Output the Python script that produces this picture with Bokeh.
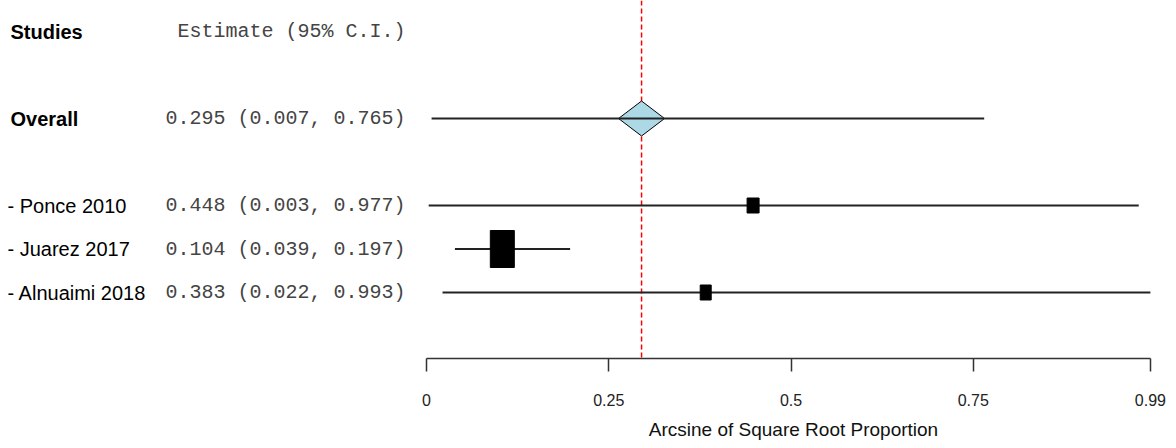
from bokeh.plotting import figure
from bokeh.models import Range1d, FixedTicker, ColumnDataSource
from bokeh.layouts import row
from bokeh.embed import file_html
from bokeh.resources import INLINE
from bokeh.core.properties import value

# ---------------- data ----------------
studies = ["Ponce 2010", "Juarez 2017", "Alnuaimi 2018"]
estimates = [0.448, 0.104, 0.383]
lower = [0.003, 0.039, 0.022]
upper = [0.977, 0.197, 0.993]

overall_label = "Overall"
overall_est = 0.295
overall_lower = 0.007
overall_upper = 0.765

col_headers = ["Studies", "Estimate (95% C.I.)"]
tick_values = [0, 0.25, 0.5, 0.75, 0.993]
tick_labels = ["0", "0.25", "0.5", "0.75", "0.99"]
x_title = "Arcsine of Square Root Proportion"

# ---------------- style / layout ----------------
box_w_px = [12, 24, 11]
box_h_px = [15, 37, 15]
W_LEFT, W_RIGHT, H = 416, 754, 446
BOTTOM = 88
FRAME_H = H - BOTTOM
ROW_PX, ROW0_PX = 43.5, 31.0
PX_PER_UNIT = 729.0
RIGHT_OFFSET_PX = 10
SANS = "Liberation Sans"
MONO = "Liberation Mono"
EST_X = 405
NAME_X = 7
HEAD_X = 10

header_row = 0
overall_row = 2
study_rows = [4 + i for i in range(len(studies))]

def fmt(e, l, u):
    return f"{e:.3f} ({l:.3f}, {u:.3f})"

y_bottom = (FRAME_H - ROW0_PX) / ROW_PX
y_top = -ROW0_PX / ROW_PX
y_range = Range1d(start=y_bottom, end=y_top)

# ---------------- left (text) panel ----------------
left = figure(width=W_LEFT, height=H, x_range=Range1d(0, W_LEFT), y_range=y_range,
              x_axis_location=None, y_axis_location=None, toolbar_location=None,
              output_backend="svg", min_border_left=0, min_border_right=0,
              min_border_top=0, min_border_bottom=BOTTOM)
left.outline_line_color = None
left.grid.visible = False

left.text(x=[HEAD_X, HEAD_X], y=[header_row, overall_row], text=[col_headers[0], overall_label],
          text_font=value(SANS), text_font_size="20px", text_font_style="bold",
          text_baseline="middle", text_align="left", text_color="black")
left.text(x=[EST_X, EST_X], y=[header_row, overall_row],
          text=[col_headers[1], fmt(overall_est, overall_lower, overall_upper)],
          text_font=value(MONO), text_font_size="20px", text_baseline="middle",
          text_align="right", text_color="#444444")

src_txt = ColumnDataSource(dict(
    y=study_rows,
    name=["- " + s for s in studies],
    est=[fmt(e, l, u) for e, l, u in zip(estimates, lower, upper)],
))
left.text(x=NAME_X, y="y", text="name", source=src_txt, text_font=value(SANS),
          text_font_size="20px", text_baseline="middle", text_align="left",
          text_color="black")
left.text(x=EST_X, y="y", text="est", source=src_txt, text_font=value(MONO),
          text_font_size="20px", text_baseline="middle", text_align="right",
          text_color="#444444")

# ---------------- right (forest) panel ----------------
x0 = -RIGHT_OFFSET_PX / PX_PER_UNIT
x1 = (W_RIGHT - RIGHT_OFFSET_PX) / PX_PER_UNIT
right = figure(width=W_RIGHT, height=H, x_range=Range1d(x0, x1), y_range=y_range,
               x_axis_location="below", y_axis_location=None, toolbar_location=None,
               output_backend="svg", min_border_left=0, min_border_right=0,
               min_border_top=0, min_border_bottom=BOTTOM)
right.outline_line_color = None
right.grid.visible = False

# reference (summary) line
right.segment(x0=[overall_est], y0=[y_top], x1=[overall_est], y1=[y_bottom],
              line_color="#FF0000", line_alpha=1.0, line_dash="5 3", line_width=1.5)

# overall diamond + CI line
hw = 23 / PX_PER_UNIT
hh = 17.5 / ROW_PX
right.patch(x=[overall_est - hw, overall_est, overall_est + hw, overall_est],
            y=[overall_row, overall_row - hh, overall_row, overall_row + hh],
            fill_color="#ADD8E6", line_color="black", line_width=1)
right.segment(x0=[overall_lower], y0=[overall_row], x1=[overall_upper], y1=[overall_row],
              line_color="#222222", line_width=2)

# studies
src = ColumnDataSource(dict(y=study_rows, est=estimates, lo=lower, hi=upper,
                            bw=box_w_px, bh=box_h_px))
right.segment(x0="lo", y0="y", x1="hi", y1="y", source=src,
              line_color="#222222", line_width=2)
right.rect(x="est", y="y", width="bw", height="bh", width_units="screen",
           height_units="screen", source=src, fill_color="black", line_color="black")

ax = right.xaxis[0]
ax.bounds = (tick_values[0], tick_values[-1])
ax.ticker = FixedTicker(ticks=tick_values)
ax.major_label_overrides = {v: l for v, l in zip(tick_values, tick_labels)}
ax.axis_line_color = "#333333"
ax.axis_line_width = 1.5
ax.major_tick_line_color = "#333333"
ax.major_tick_line_width = 1.5
ax.major_tick_in = 0
ax.major_tick_out = 13
ax.minor_tick_in = 0
ax.minor_tick_out = 0
ax.major_label_text_font = SANS
ax.major_label_text_font_size = "16px"
ax.major_label_text_color = "#222222"
ax.major_label_standoff = 22
ax.axis_label = x_title
ax.axis_label_text_font = SANS
ax.axis_label_text_font_size = "19px"
ax.axis_label_text_font_style = "normal"
ax.axis_label_text_color = "#111111"
ax.axis_label_standoff = 10

layout = row(left, right)
open("out.html", "w").write(file_html(layout, INLINE))
